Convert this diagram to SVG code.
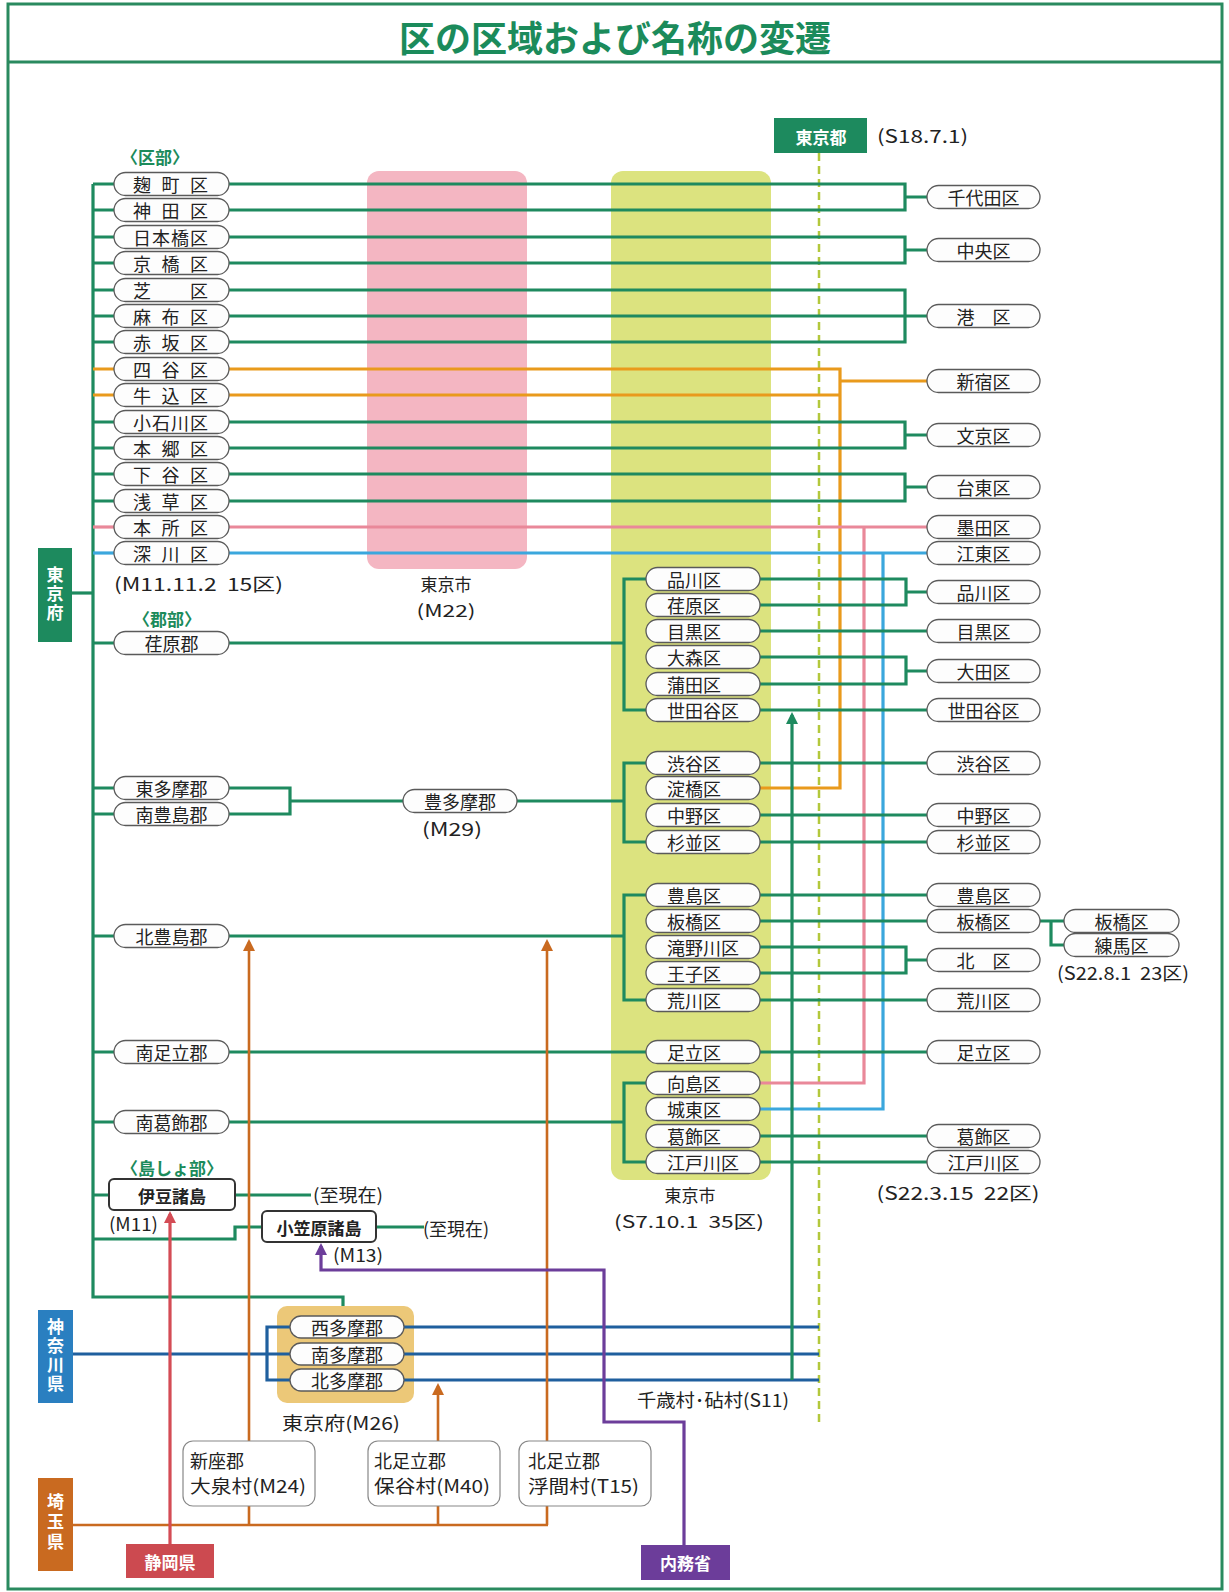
<svg xmlns="http://www.w3.org/2000/svg" width="1229" height="1592" viewBox="0 0 1229 1592">
<defs>
<style>
text{font-family:"Noto Sans CJK JP","Noto Sans",sans-serif;dominant-baseline:central;fill:#222}
.t{font-size:18px}
.tm{font-size:18px;text-anchor:middle}
.lb{font-size:18px}
.lbm{font-size:18px;text-anchor:middle}
.lbs{font-size:17px;text-anchor:middle}
.gh{font-size:17px;font-weight:bold;fill:#1b8b5b;text-anchor:middle}
.wt{font-size:17px;font-weight:bold;fill:#fff;text-anchor:middle}
.vt{font-size:17px;font-weight:bold;fill:#fff;text-anchor:middle;writing-mode:vertical-rl;glyph-orientation-vertical:0}
.bx{font-size:17px;font-weight:bold;text-anchor:middle}
.pl{fill:#fdfdfd;stroke:#5a5a5a;stroke-width:1.3}
.ib{fill:#fff;stroke:#333;stroke-width:2}
.vb{fill:#fff;stroke:#888;stroke-width:1.2}
.c{fill:none;stroke-width:3.2;stroke-linejoin:miter}
.g{stroke:#1e8a5f}
.o{stroke:#e99a1c}
.p{stroke:#e98899}
.cy{stroke:#3ba7dd}
.db{stroke:#1f5f9e}
.br{stroke:#c96a20;stroke-width:2.6}
.r{stroke:#d44c55}
.pu{stroke:#6c3d9a}
.ds{stroke:#b3c83c;stroke-width:2.5;stroke-dasharray:8 5;fill:none}
</style>
<marker id="ag" markerUnits="userSpaceOnUse" markerWidth="12" markerHeight="12" refX="9" refY="6" orient="auto"><path d="M0,0 L12,6 L0,12 z" fill="#1e8a5f"/></marker>
<marker id="abr" markerUnits="userSpaceOnUse" markerWidth="12" markerHeight="12" refX="9" refY="6" orient="auto"><path d="M0,0 L12,6 L0,12 z" fill="#c96a20"/></marker>
<marker id="ar" markerUnits="userSpaceOnUse" markerWidth="12" markerHeight="12" refX="9" refY="6" orient="auto"><path d="M0,0 L12,6 L0,12 z" fill="#d44c55"/></marker>
<marker id="apu" markerUnits="userSpaceOnUse" markerWidth="12" markerHeight="12" refX="9" refY="6" orient="auto"><path d="M0,0 L12,6 L0,12 z" fill="#6c3d9a"/></marker>
</defs>
<rect width="1229" height="1592" fill="#fff"/>
<g id="frame">
<rect x="8" y="4" width="1214" height="1585" fill="none" stroke="#2a8a5f" stroke-width="3"/>
<line x1="8" y1="62" x2="1222" y2="62" stroke="#2a8a5f" stroke-width="3"/>
<text x="615" y="36" style="font-size:36px;font-weight:bold;fill:#1b8b5b;text-anchor:middle">区の区域および名称の変遷</text>
</g>
<g id="areas">
<rect x="367" y="171" width="160" height="398" rx="12" fill="#f4b6c2"/>
<rect x="611" y="171" width="160" height="1009" rx="12" fill="#dce37f"/>
<rect x="277" y="1306" width="137" height="97" rx="10" fill="#ecc878"/>
</g>
<g id="connectors">
<path class="ds" d="M819,153 V1422"/>
<path class="c g" d="M93,184 V1297 H343 V1306"/>
<path class="c g" d="M72,593 H93"/>
<path class="c g" d="M93,184 H114 M93,210 H114 M93,237 H114 M93,263 H114 M93,290 H114 M93,316 H114 M93,342 H114 M93,422 H114 M93,448 H114 M93,474 H114 M93,501 H114"/>
<path class="c o" d="M93,369 H114 M93,395 H114"/>
<path class="c p" d="M93,527 H114"/>
<path class="c cy" d="M93,553 H114"/>
<path class="c g" d="M93,643 H114 M93,788 H114 M93,814 H114 M93,936 H114 M93,1052 H114 M93,1122 H114 M93,1195 H109"/>
<path class="c g" d="M93,1239 H235 V1227 H262"/>
<path class="c g" d="M229,184 H905 V210 H229 M905,197 H927"/>
<path class="c g" d="M229,237 H905 V263 H229 M905,250 H927"/>
<path class="c g" d="M229,290 H905 V342 H229 M229,316 H927"/>
<path class="c o" d="M229,369 H840 V788 H760 M229,395 H840 M840,381 H927"/>
<path class="c g" d="M229,422 H905 V448 H229 M905,435 H927"/>
<path class="c g" d="M229,474 H905 V501 H229 M905,487 H927"/>
<path class="c p" d="M229,527 H927 M864,527 V1083 H760"/>
<path class="c cy" d="M229,553 H927 M883,553 V1109 H760"/>
<path class="c g" d="M229,643 H624 M646,579 H624 V710 H646"/>
<path class="c g" d="M229,788 H290 V814 H229 M290,801 H403 M517,801 H624 M646,763 H624 V842 H646"/>
<path class="c g" d="M229,936 H624 M646,895 H624 V1000 H646"/>
<path class="c g" d="M229,1052 H646"/>
<path class="c g" d="M229,1122 H624 M646,1083 H624 V1162 H646"/>
<path class="c g" d="M760,579 H906 V605 H760 M906,592 H927"/>
<path class="c g" d="M760,631 H927"/>
<path class="c g" d="M760,657 H906 V684 H760 M906,671 H927"/>
<path class="c g" d="M760,710 H927 M760,763 H927 M760,815 H927 M760,842 H927 M760,895 H927 M760,921 H927"/>
<path class="c g" d="M760,947 H906 V973 H760 M906,960 H927"/>
<path class="c g" d="M760,1000 H927 M760,1052 H927 M760,1136 H927 M760,1162 H927"/>
<path class="c g" d="M1040,921 H1051 V945 H1064 M1051,921 H1064"/>
<path class="c g" d="M235,1195 H311 M376,1227 H424"/>
<path class="c db" d="M73,1354 H290 M290,1327 H267 V1380 H290 M404,1327 H819 M404,1354 H819 M404,1380 H819"/>
<path class="c g" d="M792,1380 V715" marker-end="url(#ag)"/>
<path class="c br" d="M73,1525 H548"/>
<path class="c br" d="M249,1525 V942" marker-end="url(#abr)"/>
<path class="c br" d="M547,1525 V942" marker-end="url(#abr)"/>
<path class="c br" d="M438,1525 V1386" marker-end="url(#abr)"/>
<path class="c r" d="M170,1544 V1214" marker-end="url(#ar)"/>
<path class="c pu" d="M684,1545 V1422 H604 V1270 H321 V1246" marker-end="url(#apu)"/>
</g>
<g id="labels">
<text class="gh" x="155" y="156">〈区部〉</text>
<text class="gh" x="167" y="618">〈郡部〉</text>
<text class="gh" x="172" y="1167">〈島しょ部〉</text>
<text class="lb" x="114" y="583" textLength="169" lengthAdjust="spacingAndGlyphs">(M11.11.2&#160;&#160;15区)</text>
<text class="lbs" x="446" y="583">東京市</text>
<text class="lbs" x="446" y="609" textLength="59" lengthAdjust="spacingAndGlyphs">(M22)</text>
<text class="lbm" x="452" y="828" textLength="60" lengthAdjust="spacingAndGlyphs">(M29)</text>
<text class="lbs" x="690" y="1194">東京市</text>
<text class="lbs" x="689" y="1220" textLength="150" lengthAdjust="spacingAndGlyphs">(S7.10.1&#160;&#160;35区)</text>
<text class="lbm" x="958" y="1192" textLength="163" lengthAdjust="spacingAndGlyphs">(S22.3.15&#160;&#160;22区)</text>
<text class="lbm" x="1123" y="972" textLength="132" lengthAdjust="spacingAndGlyphs">(S22.8.1&#160;&#160;23区)</text>
<text class="lb" x="877" y="135" textLength="91" lengthAdjust="spacingAndGlyphs">(S18.7.1)</text>
<text class="lb" x="109" y="1223" textLength="49" lengthAdjust="spacingAndGlyphs">(M11)</text>
<text class="lb" x="333" y="1254" textLength="50" lengthAdjust="spacingAndGlyphs">(M13)</text>
<text class="lb" x="313" y="1194" textLength="70" lengthAdjust="spacingAndGlyphs">(至現在)</text>
<text class="lb" x="423" y="1228" textLength="66" lengthAdjust="spacingAndGlyphs">(至現在)</text>
<text class="lbm" x="713" y="1399" textLength="152" lengthAdjust="spacingAndGlyphs">千歳村･砧村(S11)</text>
<text class="lbm" x="341" y="1422" textLength="118" lengthAdjust="spacingAndGlyphs">東京府(M26)</text>
</g>
<g id="n-tokyoto"><rect x="774" y="118" width="93" height="35" fill="#1d8a5e"/><text class="wt" x="821" y="136">東京都</text></g>
<g id="n-tokyofu"><rect x="38" y="548" width="34" height="94" fill="#1d8a5e"/><text class="vt" x="55" y="595" style="letter-spacing:2px">東京府</text></g>
<g id="n-kanagawa"><rect x="38" y="1310" width="35" height="93" fill="#2a7fc0"/><text class="vt" x="55.5" y="1356" style="letter-spacing:2px">神奈川県</text></g>
<g id="n-saitama"><rect x="38" y="1478" width="35" height="93" fill="#c96a20"/><text class="vt" x="55.5" y="1523" style="letter-spacing:3px">埼玉県</text></g>
<g id="n-shizuoka"><rect x="126" y="1544" width="88" height="34" fill="#cc4a50"/><text class="wt" x="170" y="1561">静岡県</text></g>
<g id="n-naimusho"><rect x="641" y="1545" width="89" height="35" fill="#6c3d9a"/><text class="wt" x="685.5" y="1562">内務省</text></g>
<g id="ku-left">
<g id="n-kojimachi"><rect class="pl" x="114" y="172.5" width="115" height="23" rx="11.5"/><text class="t" x="133" y="184" textLength="75" lengthAdjust="spacing">麹　町　区</text></g>
<g id="n-kanda"><rect class="pl" x="114" y="198.5" width="115" height="23" rx="11.5"/><text class="t" x="133" y="210" textLength="75" lengthAdjust="spacing">神　田　区</text></g>
<g id="n-nihonbashi"><rect class="pl" x="114" y="225.5" width="115" height="23" rx="11.5"/><text class="t" x="133" y="237" textLength="75" lengthAdjust="spacing">日本橋区</text></g>
<g id="n-kyobashi"><rect class="pl" x="114" y="251.5" width="115" height="23" rx="11.5"/><text class="t" x="133" y="263" textLength="75" lengthAdjust="spacing">京　橋　区</text></g>
<g id="n-shiba"><rect class="pl" x="114" y="278.5" width="115" height="23" rx="11.5"/><text class="t" x="133" y="290" textLength="75" lengthAdjust="spacing">芝　　区</text></g>
<g id="n-azabu"><rect class="pl" x="114" y="304.5" width="115" height="23" rx="11.5"/><text class="t" x="133" y="316" textLength="75" lengthAdjust="spacing">麻　布　区</text></g>
<g id="n-akasaka"><rect class="pl" x="114" y="330.5" width="115" height="23" rx="11.5"/><text class="t" x="133" y="342" textLength="75" lengthAdjust="spacing">赤　坂　区</text></g>
<g id="n-yotsuya"><rect class="pl" x="114" y="357.5" width="115" height="23" rx="11.5"/><text class="t" x="133" y="369" textLength="75" lengthAdjust="spacing">四　谷　区</text></g>
<g id="n-ushigome"><rect class="pl" x="114" y="383.5" width="115" height="23" rx="11.5"/><text class="t" x="133" y="395" textLength="75" lengthAdjust="spacing">牛　込　区</text></g>
<g id="n-koishikawa"><rect class="pl" x="114" y="410.5" width="115" height="23" rx="11.5"/><text class="t" x="133" y="422" textLength="75" lengthAdjust="spacing">小石川区</text></g>
<g id="n-hongo"><rect class="pl" x="114" y="436.5" width="115" height="23" rx="11.5"/><text class="t" x="133" y="448" textLength="75" lengthAdjust="spacing">本　郷　区</text></g>
<g id="n-shitaya"><rect class="pl" x="114" y="462.5" width="115" height="23" rx="11.5"/><text class="t" x="133" y="474" textLength="75" lengthAdjust="spacing">下　谷　区</text></g>
<g id="n-asakusa"><rect class="pl" x="114" y="489.5" width="115" height="23" rx="11.5"/><text class="t" x="133" y="501" textLength="75" lengthAdjust="spacing">浅　草　区</text></g>
<g id="n-honjo"><rect class="pl" x="114" y="515.5" width="115" height="23" rx="11.5"/><text class="t" x="133" y="527" textLength="75" lengthAdjust="spacing">本　所　区</text></g>
<g id="n-fukagawa"><rect class="pl" x="114" y="541.5" width="115" height="23" rx="11.5"/><text class="t" x="133" y="553" textLength="75" lengthAdjust="spacing">深　川　区</text></g>
</g>
<g id="gun-left">
<g id="n-ebara-gun"><rect class="pl" x="114" y="631.5" width="115" height="23" rx="11.5"/><text class="tm" x="171.5" y="643">荏原郡</text></g>
<g id="n-higashitama"><rect class="pl" x="114" y="776.5" width="115" height="23" rx="11.5"/><text class="tm" x="171.5" y="788">東多摩郡</text></g>
<g id="n-minamitoshima"><rect class="pl" x="114" y="802.5" width="115" height="23" rx="11.5"/><text class="tm" x="171.5" y="814">南豊島郡</text></g>
<g id="n-toyotama"><rect class="pl" x="403" y="789.5" width="114" height="23" rx="11.5"/><text class="tm" x="460" y="801">豊多摩郡</text></g>
<g id="n-kitatoshima"><rect class="pl" x="114" y="924.5" width="115" height="23" rx="11.5"/><text class="tm" x="171.5" y="936">北豊島郡</text></g>
<g id="n-minamiadachi"><rect class="pl" x="114" y="1040.5" width="115" height="23" rx="11.5"/><text class="tm" x="171.5" y="1052">南足立郡</text></g>
<g id="n-minamikatsushika"><rect class="pl" x="114" y="1110.5" width="115" height="23" rx="11.5"/><text class="tm" x="171.5" y="1122">南葛飾郡</text></g>
</g>
<g id="islands">
<g id="n-izu"><rect class="ib" x="109" y="1179" width="126" height="31" rx="5"/><text class="bx" x="172" y="1195">伊豆諸島</text></g>
<g id="n-ogasawara"><rect class="ib" x="262" y="1211" width="114" height="31" rx="5"/><text class="bx" x="319" y="1227">小笠原諸島</text></g>
</g>
<g id="ku-mid">
<g id="m-shinagawa"><rect class="pl" x="646" y="567.5" width="114" height="23" rx="11.5"/><text class="t" x="667" y="579">品川区</text></g>
<g id="m-ebara"><rect class="pl" x="646" y="593.5" width="114" height="23" rx="11.5"/><text class="t" x="667" y="605">荏原区</text></g>
<g id="m-meguro"><rect class="pl" x="646" y="619.5" width="114" height="23" rx="11.5"/><text class="t" x="667" y="631">目黒区</text></g>
<g id="m-omori"><rect class="pl" x="646" y="645.5" width="114" height="23" rx="11.5"/><text class="t" x="667" y="657">大森区</text></g>
<g id="m-kamata"><rect class="pl" x="646" y="672.5" width="114" height="23" rx="11.5"/><text class="t" x="667" y="684">蒲田区</text></g>
<g id="m-setagaya"><rect class="pl" x="646" y="698.5" width="114" height="23" rx="11.5"/><text class="t" x="667" y="710">世田谷区</text></g>
<g id="m-shibuya"><rect class="pl" x="646" y="751.5" width="114" height="23" rx="11.5"/><text class="t" x="667" y="763">渋谷区</text></g>
<g id="m-yodobashi"><rect class="pl" x="646" y="776.5" width="114" height="23" rx="11.5"/><text class="t" x="667" y="788">淀橋区</text></g>
<g id="m-nakano"><rect class="pl" x="646" y="803.5" width="114" height="23" rx="11.5"/><text class="t" x="667" y="815">中野区</text></g>
<g id="m-suginami"><rect class="pl" x="646" y="830.5" width="114" height="23" rx="11.5"/><text class="t" x="667" y="842">杉並区</text></g>
<g id="m-toshima"><rect class="pl" x="646" y="883.5" width="114" height="23" rx="11.5"/><text class="t" x="667" y="895">豊島区</text></g>
<g id="m-itabashi"><rect class="pl" x="646" y="909.5" width="114" height="23" rx="11.5"/><text class="t" x="667" y="921">板橋区</text></g>
<g id="m-takinogawa"><rect class="pl" x="646" y="935.5" width="114" height="23" rx="11.5"/><text class="t" x="667" y="947">滝野川区</text></g>
<g id="m-oji"><rect class="pl" x="646" y="961.5" width="114" height="23" rx="11.5"/><text class="t" x="667" y="973">王子区</text></g>
<g id="m-arakawa"><rect class="pl" x="646" y="988.5" width="114" height="23" rx="11.5"/><text class="t" x="667" y="1000">荒川区</text></g>
<g id="m-adachi"><rect class="pl" x="646" y="1040.5" width="114" height="23" rx="11.5"/><text class="t" x="667" y="1052">足立区</text></g>
<g id="m-mukojima"><rect class="pl" x="646" y="1071.5" width="114" height="23" rx="11.5"/><text class="t" x="667" y="1083">向島区</text></g>
<g id="m-joto"><rect class="pl" x="646" y="1097.5" width="114" height="23" rx="11.5"/><text class="t" x="667" y="1109">城東区</text></g>
<g id="m-katsushika"><rect class="pl" x="646" y="1124.5" width="114" height="23" rx="11.5"/><text class="t" x="667" y="1136">葛飾区</text></g>
<g id="m-edogawa"><rect class="pl" x="646" y="1150.5" width="114" height="23" rx="11.5"/><text class="t" x="667" y="1162">江戸川区</text></g>
</g>
<g id="ku-right">
<g id="r-chiyoda"><rect class="pl" x="927" y="185.5" width="113" height="23" rx="11.5"/><text class="tm" x="983.5" y="197">千代田区</text></g>
<g id="r-chuo"><rect class="pl" x="927" y="238.5" width="113" height="23" rx="11.5"/><text class="tm" x="983.5" y="250">中央区</text></g>
<g id="r-minato"><rect class="pl" x="927" y="304.5" width="113" height="23" rx="11.5"/><text class="tm" x="983.5" y="316">港　区</text></g>
<g id="r-shinjuku"><rect class="pl" x="927" y="369.5" width="113" height="23" rx="11.5"/><text class="tm" x="983.5" y="381">新宿区</text></g>
<g id="r-bunkyo"><rect class="pl" x="927" y="423.5" width="113" height="23" rx="11.5"/><text class="tm" x="983.5" y="435">文京区</text></g>
<g id="r-taito"><rect class="pl" x="927" y="475.5" width="113" height="23" rx="11.5"/><text class="tm" x="983.5" y="487">台東区</text></g>
<g id="r-sumida"><rect class="pl" x="927" y="515.5" width="113" height="23" rx="11.5"/><text class="tm" x="983.5" y="527">墨田区</text></g>
<g id="r-koto"><rect class="pl" x="927" y="541.5" width="113" height="23" rx="11.5"/><text class="tm" x="983.5" y="553">江東区</text></g>
<g id="r-shinagawa"><rect class="pl" x="927" y="580.5" width="113" height="23" rx="11.5"/><text class="tm" x="983.5" y="592">品川区</text></g>
<g id="r-meguro"><rect class="pl" x="927" y="619.5" width="113" height="23" rx="11.5"/><text class="tm" x="983.5" y="631">目黒区</text></g>
<g id="r-ota"><rect class="pl" x="927" y="659.5" width="113" height="23" rx="11.5"/><text class="tm" x="983.5" y="671">大田区</text></g>
<g id="r-setagaya"><rect class="pl" x="927" y="698.5" width="113" height="23" rx="11.5"/><text class="tm" x="983.5" y="710">世田谷区</text></g>
<g id="r-shibuya"><rect class="pl" x="927" y="751.5" width="113" height="23" rx="11.5"/><text class="tm" x="983.5" y="763">渋谷区</text></g>
<g id="r-nakano"><rect class="pl" x="927" y="803.5" width="113" height="23" rx="11.5"/><text class="tm" x="983.5" y="815">中野区</text></g>
<g id="r-suginami"><rect class="pl" x="927" y="830.5" width="113" height="23" rx="11.5"/><text class="tm" x="983.5" y="842">杉並区</text></g>
<g id="r-toshima"><rect class="pl" x="927" y="883.5" width="113" height="23" rx="11.5"/><text class="tm" x="983.5" y="895">豊島区</text></g>
<g id="r-itabashi"><rect class="pl" x="927" y="909.5" width="113" height="23" rx="11.5"/><text class="tm" x="983.5" y="921">板橋区</text></g>
<g id="r-kita"><rect class="pl" x="927" y="948.5" width="113" height="23" rx="11.5"/><text class="tm" x="983.5" y="960">北　区</text></g>
<g id="r-arakawa"><rect class="pl" x="927" y="988.5" width="113" height="23" rx="11.5"/><text class="tm" x="983.5" y="1000">荒川区</text></g>
<g id="r-adachi"><rect class="pl" x="927" y="1040.5" width="113" height="23" rx="11.5"/><text class="tm" x="983.5" y="1052">足立区</text></g>
<g id="r-katsushika"><rect class="pl" x="927" y="1124.5" width="113" height="23" rx="11.5"/><text class="tm" x="983.5" y="1136">葛飾区</text></g>
<g id="r-edogawa"><rect class="pl" x="927" y="1150.5" width="113" height="23" rx="11.5"/><text class="tm" x="983.5" y="1162">江戸川区</text></g>
<g id="f-itabashi"><rect class="pl" x="1064" y="909.5" width="115" height="23" rx="11.5"/><text class="tm" x="1121.5" y="921">板橋区</text></g>
<g id="f-nerima"><rect class="pl" x="1064" y="933.5" width="115" height="23" rx="11.5"/><text class="tm" x="1121.5" y="945">練馬区</text></g>
</g>
<g id="tama">
<g id="n-nishitama"><rect class="pl" x="290" y="1316" width="114" height="22" rx="11"/><text class="tm" x="347" y="1327">西多摩郡</text></g>
<g id="n-minamitama"><rect class="pl" x="290" y="1343" width="114" height="22" rx="11"/><text class="tm" x="347" y="1354">南多摩郡</text></g>
<g id="n-kitatama"><rect class="pl" x="290" y="1369" width="114" height="22" rx="11"/><text class="tm" x="347" y="1380">北多摩郡</text></g>
</g>
<g id="villages">
<g id="n-oizumi"><rect class="vb" x="183" y="1441" width="132" height="65" rx="10"/><text class="lb" x="190" y="1460">新座郡</text><text class="lb" x="190" y="1485" textLength="116" lengthAdjust="spacingAndGlyphs">大泉村(M24)</text></g>
<g id="n-hoya"><rect class="vb" x="368" y="1441" width="132" height="65" rx="10"/><text class="lb" x="374" y="1460">北足立郡</text><text class="lb" x="374" y="1485" textLength="116" lengthAdjust="spacingAndGlyphs">保谷村(M40)</text></g>
<g id="n-ukima"><rect class="vb" x="519" y="1441" width="132" height="65" rx="10"/><text class="lb" x="528" y="1460">北足立郡</text><text class="lb" x="528" y="1485" textLength="111" lengthAdjust="spacingAndGlyphs">浮間村(T15)</text></g>
</g>
</svg>
